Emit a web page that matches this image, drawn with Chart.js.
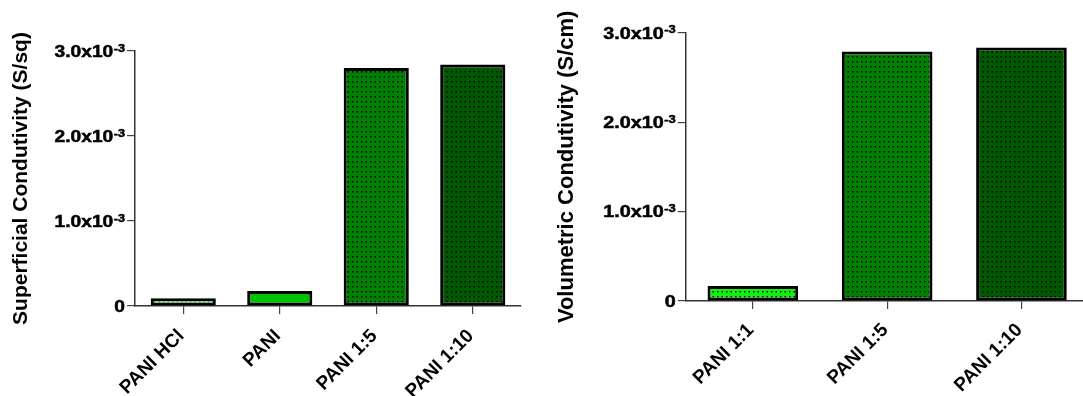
<!DOCTYPE html>
<html>
<head>
<meta charset="utf-8">
<script src="https://cdn.jsdelivr.net/npm/chart.js@4.4.1/dist/chart.umd.min.js"></script>
<style>
  html, body { margin: 0; padding: 0; background: #fff; overflow: hidden; width: 1083px; height: 396px; }
  canvas { position: absolute; top: 0; }
  #surface { left: 0; }
  #volume { left: 545px; }
</style>
</head>
<body>
<canvas id="surface" width="540" height="396"></canvas>
<canvas id="volume" width="545" height="396"></canvas>
<script>
// Sheet (superficial) conductivity, S/sq
const surfaceCategories = ['PANI HCl', 'PANI', 'PANI 1:5', 'PANI 1:10'];
const surfaceValues = [0.00009, 0.000176, 0.0028, 0.00284];

// Bulk (volumetric) conductivity, S/cm
const volumeCategories = ['PANI 1:1', 'PANI 1:5', 'PANI 1:10'];
const volumeValues = [0.000168, 0.00279, 0.002834];

// Shared y ticks: mantissa text plus a raised exponent
const yTickValues = [0, 0.001, 0.002, 0.003];
const yTickMantissas = ['0', '1.0x10', '2.0x10', '3.0x10'];
const yTickExponent = '-3';

const FONT = '"Liberation Sans", Arial, Helvetica, sans-serif';

// Dotted fill used on most bars
function dotted(bg, dot) {
  const t = document.createElement('canvas');
  t.width = 9; t.height = 10;
  const g = t.getContext('2d');
  g.fillStyle = bg; g.fillRect(0, 0, 9, 10);
  g.fillStyle = dot;
  [[1, 1], [5.5, 1], [1, 6], [5.5, 6]].forEach(([x, y]) => g.fillRect(x, y, 1.5, 1.5));
  return g.createPattern(t, 'repeat');
}

// Draws the y tick labels as "N.0x10" with a superscript exponent
const expTicks = {
  id: 'expTicks',
  afterDraw(chart, args, opts) {
    const ys = chart.scales.y;
    const ctx = chart.ctx;
    const k = opts.scale || 1;
    const stretch = 1.2;
    const xr = ys.right - 10;
    ctx.save();
    ctx.fillStyle = '#000';
    ctx.strokeStyle = '#000';
    ctx.lineWidth = 0.5;
    ctx.textAlign = 'right';
    ctx.textBaseline = 'alphabetic';
    ys.ticks.forEach(t => {
      const idx = yTickValues.findIndex(v => Math.abs(v - t.value) < 1e-9);
      if (idx < 0) return;
      const py = ys.getPixelForValue(t.value);
      let x = xr;
      if (yTickValues[idx] !== 0) {
        ctx.save();
        ctx.font = 'bold ' + (10.5 * k) + 'px ' + FONT;
        ctx.translate(x, py + 0.5);
        ctx.scale(stretch, 1);
        ctx.fillText(yTickExponent, 0, 0);
        ctx.strokeText(yTickExponent, 0, 0);
        const ew = ctx.measureText(yTickExponent).width * stretch;
        ctx.restore();
        x -= ew + 0.5;
      }
      ctx.save();
      ctx.font = 'bold ' + (16 * k) + 'px ' + FONT;
      ctx.translate(x, py + 5.7 * k);
      ctx.scale(stretch, 1);
      ctx.fillText(yTickMantissas[idx], 0, 0);
      ctx.strokeText(yTickMantissas[idx], 0, 0);
      ctx.restore();
    });
    ctx.restore();
  }
};

function makeChart(id, cats, vals, fills, titleText, cfg) {
  return new Chart(document.getElementById(id), {
    type: 'bar',
    data: {
      labels: cats,
      datasets: [{
        data: vals,
        backgroundColor: fills,
        borderColor: '#000',
        borderWidth: 3,
        borderSkipped: false,
        barPercentage: 0.675,
        categoryPercentage: 1
      }]
    },
    options: {
      responsive: false,
      animation: false,
      devicePixelRatio: 1,
      layout: { padding: cfg.padding },
      plugins: { legend: { display: false }, tooltip: { enabled: false }, expTicks: { scale: cfg.tickScale } },
      scales: {
        x: {
          offset: true,
          grid: { display: true, offset: false, drawOnChartArea: false, drawTicks: true, tickLength: 8, color: '#444', lineWidth: 1.2 },
          border: { display: true, color: '#333', width: 1.5 },
          ticks: {
            minRotation: 45, maxRotation: 45, autoSkip: false,
            padding: cfg.labelPad, labelOffset: -2,
            color: '#000',
            font: { family: FONT, size: 19, weight: 'bold' }
          },
          afterFit: s => { s.height = cfg.xHeight; }
        },
        y: {
          min: 0, max: 0.003,
          grid: { display: true, drawOnChartArea: false, drawTicks: true, tickLength: 8, color: '#444', lineWidth: 1.2 },
          border: { display: true, color: '#333', width: 1.5 },
          ticks: { stepSize: 0.001, display: false },
          title: {
            display: true, text: titleText, color: '#000',
            font: { family: FONT, size: cfg.titleSize, weight: 'bold' },
            padding: { top: 9, bottom: 0 }
          },
          afterFit: s => { s.width = cfg.yWidth; }
        }
      }
    },
    plugins: [expTicks]
  });
}

makeChart('surface', surfaceCategories, surfaceValues,
  [dotted('#94ee94', '#2f9a2f'), '#00c000', dotted('#008000', '#000'), dotted('#005800', '#000')],
  'Superficial Condutivity (S/sq)',
  { yWidth: 135, xHeight: 90, padding: { top: 51, right: 19, bottom: 0, left: 0 }, labelPad: 11, titleSize: 21, tickScale: 1 });

makeChart('volume', volumeCategories, volumeValues,
  [dotted('#11f011', '#000'), dotted('#008000', '#000'), dotted('#005800', '#000')],
  'Volumetric Condutivity (S/cm)',
  { yWidth: 140.7, xHeight: 95, padding: { top: 32.7, right: 1.4, bottom: 0, left: 0 }, labelPad: 10, titleSize: 22, tickScale: 1.03 });
</script>
</body>
</html>
